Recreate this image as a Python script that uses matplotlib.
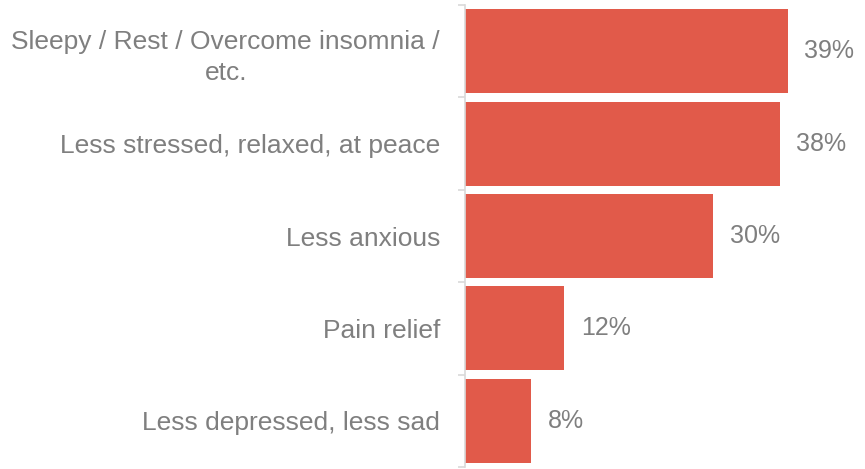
import matplotlib
matplotlib.use("Agg")
import matplotlib.pyplot as plt
from matplotlib.ticker import FixedLocator

# data
categories = ["Sleepy / Rest / Overcome insomnia /\netc.",
              "Less stressed, relaxed, at peace",
              "Less anxious",
              "Pain relief",
              "Less depressed, less sad"]
values = [39, 38, 30, 12, 8]

BAR_COLOR = "#E15A4A"
TEXT_COLOR = "#7F7F7F"
AXIS_COLOR = "#D9D9D9"

plt.rcParams["font.family"] = ["Liberation Sans", "DejaVu Sans"]

fig = plt.figure(figsize=(8.65, 4.69), dpi=100)
ax = fig.add_axes([465 / 865, 1 - 467 / 469, 400 / 865, 462 / 469])

pos = list(range(len(values)))
ax.barh(pos, values, height=0.91, color=BAR_COLOR)
ax.set_ylim(len(values) - 0.5, -0.5)
ax.set_xlim(0, 400 / 8.28)

for p, v in zip(pos, values):
    ax.text(v + 2.0, p, f"{v}%", va="center", ha="left",
            fontsize=18, color=TEXT_COLOR)

ax.set_yticks(pos)
ax.set_yticklabels(categories, fontsize=19, color=TEXT_COLOR, ha="right",
                   multialignment="center", linespacing=1.4)
ax.tick_params(axis="y", which="major", length=0, pad=18)
ax.yaxis.set_minor_locator(FixedLocator([i - 0.5 for i in range(len(values) + 1)]))
ax.tick_params(axis="y", which="minor", length=5, color=AXIS_COLOR, width=1.2)
ax.set_xticks([])

for s in ["top", "right", "bottom"]:
    ax.spines[s].set_visible(False)
ax.spines["left"].set_color(AXIS_COLOR)
ax.spines["left"].set_linewidth(1.2)

fig.savefig("out.png", dpi=100)
